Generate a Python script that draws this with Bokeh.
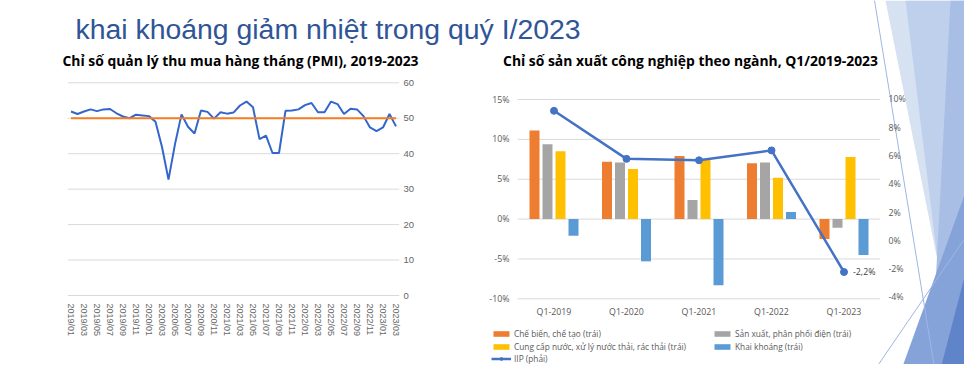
import numpy as np
from bokeh.plotting import figure
from bokeh.models import (Range1d, LinearAxis, FixedTicker, PrintfTickFormatter,
                          Legend, LegendItem)
from bokeh.core.properties import value
from bokeh.embed import file_html
from bokeh.resources import INLINE

# ---------------- data ----------------
SLIDE_TITLE = "khai khoáng giảm nhiệt trong quý I/2023"
PMI_TITLE = "Chỉ số quản lý thu mua hàng tháng (PMI), 2019-2023"
IIP_TITLE = "Chỉ số sản xuất công nghiệp theo ngành, Q1/2019-2023"

MONTHS = [f"{y}/{m:02d}" for y in range(2019, 2024) for m in range(1, 13)][:51]
PMI = [51.9, 51.2, 51.9, 52.5, 52.0, 52.5, 52.6, 51.4, 50.5, 50.0, 51.0, 50.8,
       50.6, 49.0, 41.9, 32.7, 42.7, 51.1, 47.6, 45.7, 52.2, 51.8, 49.9, 51.7,
       51.3, 51.6, 53.6, 54.7, 53.1, 44.1, 45.1, 40.2, 40.2, 52.1, 52.2, 52.5,
       53.7, 54.3, 51.7, 51.7, 54.7, 54.0, 51.2, 52.7, 52.5, 50.6, 47.4, 46.4,
       47.4, 51.2, 47.7]
PMI_THRESHOLD = 50
PMI_TICKS = [0, 10, 20, 30, 40, 50, 60]

QUARTERS = ["Q1-2019", "Q1-2020", "Q1-2021", "Q1-2022", "Q1-2023"]
MANUF = [11.1, 7.2, 7.9, 7.0, -2.5]
POWER = [9.4, 7.1, 2.4, 7.1, -1.1]
WATER = [8.5, 6.3, 7.4, 5.2, 7.8]
MINING = [-2.1, -5.3, -8.3, 0.9, -4.5]
IIP = [9.2, 5.8, 5.7, 6.4, -2.2]
SERIES_NAMES = ["Chế biến, chế tạo (trái)", "Sản xuất, phân phối điện (trái)",
                "Cung cấp nước, xử lý nước thải, rác thải (trái)", "Khai khoáng (trái)",
                "IIP (phải)"]
LEFT_TICKS = [-10, -5, 0, 5, 10, 15]
RIGHT_TICKS = [-4, -2, 0, 2, 4, 6, 8, 10]

# ---------------- geometry (picture pixels) ----------------
W, H = 964, 364

def lin_range(origin_px, px_per_unit, lo_px, hi_px):
    return Range1d((lo_px - origin_px) / px_per_unit, (hi_px - origin_px) / px_per_unit)

def lin_range_up(origin_px, px_per_unit, bottom_px, top_px):
    return Range1d((origin_px - bottom_px) / px_per_unit, (origin_px - top_px) / px_per_unit)

# PMI chart mapping
PM_X0, PM_DX = 70.5, 6.5
PM_Y0, PM_KY = 295.0, 3.545
# IIP chart mapping
C_X0, C_DX = 553.5, 72.5
PCT_Y0, PCT_K = 218.6, 7.972
IIP_Y0, IIP_K = 240.4, 14.143

p = figure(width=W, height=H, x_range=Range1d(0, W), y_range=Range1d(H, 0),
           x_axis_type=None, y_axis_type=None, output_backend="svg",
           toolbar_location=None, min_border=0, outline_line_color=None,
           background_fill_color="white", border_fill_color="white")

p.extra_x_ranges = {"pmi_x": lin_range(PM_X0, PM_DX, 0, W),
                    "cat": lin_range(C_X0, C_DX, 0, W)}
p.extra_y_ranges = {"pmi_y": lin_range_up(PM_Y0, PM_KY, H, 0),
                    "pct": lin_range_up(PCT_Y0, PCT_K, H, 0),
                    "iip": lin_range_up(IIP_Y0, IIP_K, H, 0)}

# ---------------- slide decoration (right side) ----------------
deco = [
    ([885, 980, 980, 961], [0, 0, 380, 380], "#D6E1F2"),
    ([905, 980, 980, 952], [0, 0, 380, 380], "#BFD0EC"),
    ([950, 980, 980, 930], [0, 0, 380, 380], "#A8BEE5"),
    ([897, 980, 980], [380, 150, 380], "#86A3D9"),
    ([937, 980, 980], [380, 215, 380], "#5F84CA"),
]
for xs, ys, c in deco:
    p.patch(xs, ys, fill_color=c, line_color=None)
p.line([874, 936], [0, 380], line_color="#9DB6E4", line_width=1)
p.line([867, 980], [380, 215], line_color="#9DB6E4", line_width=1)

# ---------------- titles ----------------
p.text(x=[75], y=[28.5], text=[SLIDE_TITLE], text_font=value("Liberation Sans"),
       text_font_size="28.4px", text_color="#2F5597", text_baseline="alphabetic",
       text_align="left")
p.text(x=[240], y=[60], text=[PMI_TITLE], text_font=value("Open Sans"),
       text_font_size="13.9px", text_font_style="bold", text_color="#000000",
       text_baseline="alphabetic", text_align="center")
p.text(x=[690], y=[60], text=[IIP_TITLE], text_font=value("Open Sans"),
       text_font_size="13.9px", text_font_style="bold", text_color="#000000",
       text_baseline="alphabetic", text_align="center")

# ---------------- PMI chart ----------------
n = len(PMI)
mi = np.arange(n)
for t in PMI_TICKS:
    p.segment(x0=-0.5, x1=n - 0.5, y0=t, y1=t, x_range_name="pmi_x", y_range_name="pmi_y",
              line_color="#DADADA", line_width=1)
p.line(x=mi, y=PMI, x_range_name="pmi_x", y_range_name="pmi_y",
       line_color="#3366CC", line_width=2)
p.line(x=[0, n - 1], y=[PMI_THRESHOLD, PMI_THRESHOLD], x_range_name="pmi_x",
       y_range_name="pmi_y", line_color="#F57C22", line_width=2)

pmi_yaxis = LinearAxis(y_range_name="pmi_y", fixed_location=398,
                       ticker=FixedTicker(ticks=PMI_TICKS))
pmi_xaxis = LinearAxis(x_range_name="pmi_x", y_range_name="pmi_y", fixed_location=0,
                       ticker=FixedTicker(ticks=list(range(0, n, 2))),
                       major_label_overrides={i: MONTHS[i] for i in range(0, n, 2)},
                       major_label_orientation="vertical")
for ax in (pmi_yaxis, pmi_xaxis):
    ax.axis_line_color = None
    ax.major_tick_line_color = None
    ax.minor_tick_line_color = None
    ax.major_tick_in = 0
    ax.major_tick_out = 0
    ax.major_label_text_font = "Liberation Sans"
    ax.major_label_text_color = "#666666"
pmi_yaxis.major_label_text_font_size = "9.5px"
pmi_xaxis.major_label_text_font_size = "9px"
pmi_yaxis.major_label_standoff = 5
pmi_xaxis.major_label_standoff = 8
p.add_layout(pmi_yaxis, "right")
p.add_layout(pmi_xaxis, "below")

# ---------------- IIP chart ----------------
k = len(QUARTERS)
qi = np.arange(k)
for t in LEFT_TICKS:
    p.segment(x0=-0.5, x1=k - 0.5, y0=t, y1=t, x_range_name="cat", y_range_name="pct",
              line_color="#D9D9D9", line_width=1)

bar_w = 10 / C_DX
offs = [-19.5 / C_DX, -6.5 / C_DX, 6.5 / C_DX, 19.5 / C_DX]
colors = ["#ED7D31", "#A5A5A5", "#FFC000", "#5B9BD5"]
bar_r = []
for vals, off, col in zip([MANUF, POWER, WATER, MINING], offs, colors):
    r = p.vbar(x=qi + off, top=vals, bottom=0, width=bar_w, x_range_name="cat",
               y_range_name="pct", fill_color=col, line_color=None)
    bar_r.append(r)

iip_line = p.line(x=qi, y=IIP, x_range_name="cat", y_range_name="iip",
                  line_color="#4472C4", line_width=2.5)
iip_pts = p.scatter(x=qi, y=IIP, x_range_name="cat", y_range_name="iip",
                    size=7, fill_color="#4472C4", line_color="#4472C4")
p.text(x=[qi[-1]], y=[IIP[-1]], text=[f"{IIP[-1]:.1f}%".replace(".", ",")],
       x_range_name="cat", y_range_name="iip", x_offset=9,
       text_font=value("Open Sans"), text_font_size="8.8px", text_color="#404040",
       text_baseline="middle", text_align="left")

ax_l = LinearAxis(y_range_name="pct", fixed_location=516,
                  ticker=FixedTicker(ticks=LEFT_TICKS),
                  formatter=PrintfTickFormatter(format="%d%%"))
ax_r = LinearAxis(y_range_name="iip", fixed_location=881,
                  ticker=FixedTicker(ticks=RIGHT_TICKS),
                  formatter=PrintfTickFormatter(format="%d%%"))
ax_b = LinearAxis(x_range_name="cat", y_range_name="pct", fixed_location=-10,
                  ticker=FixedTicker(ticks=list(range(k))),
                  major_label_overrides={i: QUARTERS[i] for i in range(k)})
for ax in (ax_l, ax_r, ax_b):
    ax.axis_line_color = None
    ax.major_tick_line_color = None
    ax.minor_tick_line_color = None
    ax.major_tick_in = 0
    ax.major_tick_out = 0
    ax.major_label_text_font = "Open Sans"
    ax.major_label_text_font_size = "8.8px"
    ax.major_label_text_color = "#595959"
    ax.major_label_standoff = 7
p.add_layout(ax_l, "left")
p.add_layout(ax_r, "right")
p.add_layout(ax_b, "below")

# ---------------- legends ----------------
leg_specs = [
    ([bar_r[0]], SERIES_NAMES[0], 491, 333.0),
    ([bar_r[1]], SERIES_NAMES[1], 712, 333.0),
    ([bar_r[2]], SERIES_NAMES[2], 491, 346.5),
    ([bar_r[3]], SERIES_NAMES[3], 712, 346.5),
    ([iip_line, iip_pts], SERIES_NAMES[4], 491, 358.5),
]
for rs, lab, lx, cy in leg_specs:
    lg = Legend(items=[LegendItem(label=lab, renderers=rs)],
                location=(lx, H - (cy + 5.5)),
                glyph_width=20, glyph_height=7, label_height=7, label_standoff=3,
                padding=0, margin=0, spacing=0, border_line_alpha=0,
                background_fill_alpha=0, label_text_font="Open Sans",
                label_text_font_size="8.3px", label_text_color="#595959")
    p.add_layout(lg, "center")

open("out.html", "w").write(file_html(p, INLINE))
